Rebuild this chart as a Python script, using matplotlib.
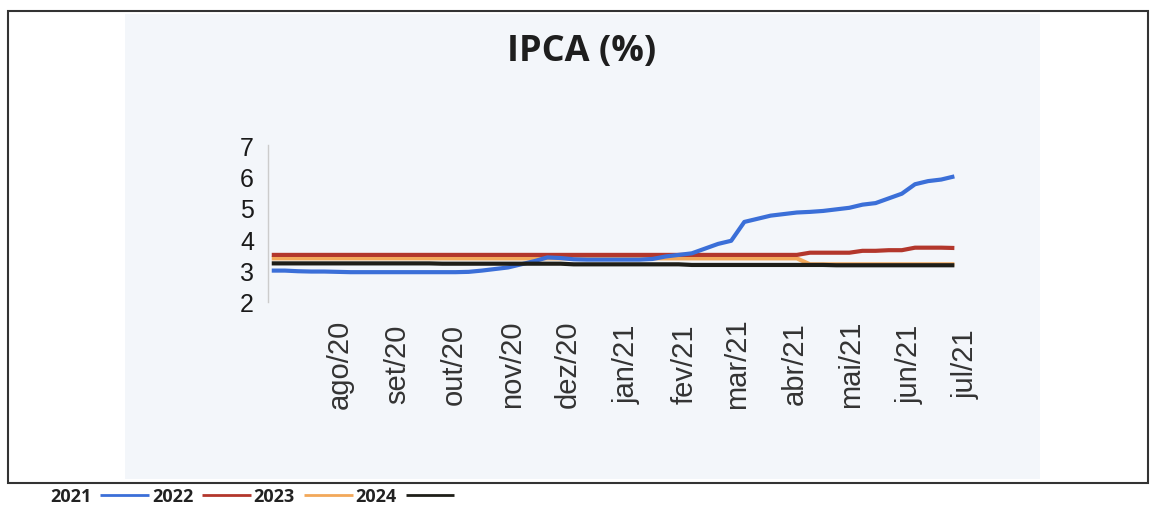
import matplotlib
matplotlib.use("Agg")
import matplotlib.pyplot as plt
import matplotlib.patches as patches
import pandas as pd

# weekly Focus survey dates (Fridays)
dates = pd.date_range("2020-06-26", periods=53, freq="W-FRI")

ipca_2021 = [3.00, 3.00, 2.98, 2.97, 2.97, 2.96,
             2.95, 2.95, 2.95, 2.95,
             2.95, 2.95, 2.95, 2.95,
             2.95, 2.96, 3.00, 3.05, 3.10,
             3.20, 3.30, 3.42, 3.40,
             3.36, 3.35, 3.35, 3.35,
             3.35, 3.35, 3.37, 3.45, 3.50,
             3.55, 3.70, 3.85, 3.95,
             4.55, 4.65, 4.75, 4.80,
             4.85, 4.87, 4.90, 4.95, 5.00,
             5.10, 5.15, 5.30, 5.45,
             5.75, 5.85, 5.90, 6.00]

ipca_2022 = [3.50, 3.50, 3.50, 3.50, 3.50, 3.50,
             3.50, 3.50, 3.50, 3.50,
             3.50, 3.50, 3.50, 3.50,
             3.50, 3.50, 3.50, 3.50, 3.50,
             3.50, 3.50, 3.50, 3.50,
             3.50, 3.50, 3.50, 3.50,
             3.50, 3.50, 3.50, 3.50, 3.50,
             3.50, 3.50, 3.50, 3.50,
             3.50, 3.50, 3.50, 3.50,
             3.50, 3.57, 3.57, 3.57, 3.57,
             3.63, 3.63, 3.65, 3.65,
             3.73, 3.73, 3.73, 3.72]

ipca_2023 = [3.39, 3.39, 3.39, 3.39, 3.39, 3.39,
             3.39, 3.39, 3.39, 3.39,
             3.39, 3.39, 3.39, 3.39,
             3.39, 3.39, 3.39, 3.39, 3.39,
             3.39, 3.39, 3.39, 3.39,
             3.39, 3.39, 3.39, 3.39,
             3.39, 3.39, 3.39, 3.39, 3.39,
             3.39, 3.39, 3.39, 3.39,
             3.39, 3.39, 3.39, 3.39,
             3.39, 3.20, 3.20, 3.20, 3.20,
             3.20, 3.20, 3.20, 3.20,
             3.20, 3.20, 3.20, 3.20]

ipca_2024 = [3.23, 3.23, 3.23, 3.23, 3.23, 3.23,
             3.23, 3.23, 3.23, 3.23,
             3.23, 3.23, 3.23, 3.22, 3.22,
             3.22, 3.22, 3.22, 3.22,
             3.22, 3.22, 3.22, 3.22,
             3.20, 3.20, 3.20, 3.20,
             3.20, 3.20, 3.20, 3.20, 3.20,
             3.18, 3.18, 3.18, 3.18,
             3.18, 3.18, 3.18, 3.18,
             3.18, 3.18, 3.18, 3.17, 3.17,
             3.17, 3.17, 3.17, 3.17,
             3.17, 3.17, 3.17, 3.17]

series = {"2021": ipca_2021, "2022": ipca_2022, "2023": ipca_2023, "2024": ipca_2024}
colors = {"2021": "#3b6fd8", "2022": "#b3372c", "2023": "#f2a85a", "2024": "#1e1e18"}
# stacking seen in the picture: orange under red, blue over both, black on top
layer = {"2021": 3, "2022": 2, "2023": 1, "2024": 4}

month_ticks = pd.date_range("2020-08-01", periods=12, freq="MS")
month_labels = ["ago/20", "set/20", "out/20", "nov/20", "dez/20", "jan/21",
                "fev/21", "mar/21", "abr/21", "mai/21", "jun/21", "jul/21"]

W, H = 1152, 510
fig = plt.figure(figsize=(W / 100, H / 100), dpi=100)
fig.patch.set_facecolor("white")

# light panel behind the chart and the outer frame
fig.patches.append(patches.Rectangle((125 / W, 1 - 480 / H), 915 / W, 465 / H,
                                     transform=fig.transFigure, facecolor="#f3f6fa",
                                     edgecolor="none", zorder=-10))
fig.patches.append(patches.Rectangle((8 / W, 1 - 484 / H), 1140 / W, 472 / H,
                                     transform=fig.transFigure, fill=False,
                                     edgecolor="#333333", linewidth=1.5, zorder=-5))

ax = fig.add_axes([268 / W, 1 - 303 / H, (975 - 268) / W, (303 - 146) / H])
ax.set_zorder(2)
ax.patch.set_alpha(0)

for name, values in series.items():
    ax.plot(dates, values, color=colors[name], linewidth=3, label=name,
            zorder=layer[name], solid_capstyle="butt")

ax.set_ylim(2, 7)
ax.set_yticks([2, 3, 4, 5, 6, 7])
ax.set_xlim(pd.Timestamp("2020-06-24"), pd.Timestamp("2021-07-06"))
ax.set_xticks(month_ticks)
ax.set_xticklabels(month_labels, rotation=90, fontsize=21, color="#333333",
                   family="Liberation Sans", va="center")
for lab in ax.get_yticklabels():
    lab.set_fontsize(18)
    lab.set_family("Liberation Sans")
    lab.set_color("#1a1a1a")
ax.tick_params(axis="both", length=0)
ax.tick_params(axis="x", pad=44)
ax.tick_params(axis="y", pad=10)

for side in ["top", "right", "bottom"]:
    ax.spines[side].set_visible(False)
ax.spines["left"].set_color("#cccccc")
ax.spines["left"].set_linewidth(1)

fig.text(582 / W, 1 - 52 / H, "IPCA (%)", ha="center", va="center",
         fontsize=26, family="Open Sans", weight="bold", color="#1e1e1e")

leg = ax.legend(loc="center left", bbox_to_anchor=(50 / W, 1 - 497 / H),
                bbox_transform=fig.transFigure, ncol=4, frameon=False,
                markerfirst=False, handlelength=2.7, handletextpad=0.5,
                columnspacing=0.15, borderpad=0, borderaxespad=0,
                prop={"family": "Open Sans", "weight": "bold", "size": 13})
for line in leg.get_lines():
    line.set_linewidth(2)
for txt in leg.get_texts():
    txt.set_color("#222222")

fig.savefig("out.png", dpi=100)
